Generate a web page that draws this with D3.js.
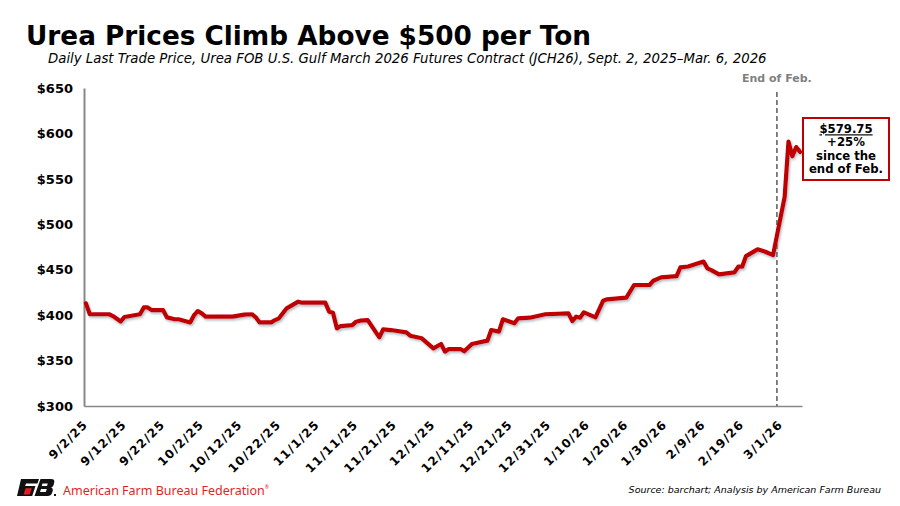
<!DOCTYPE html>
<html>
<head>
<meta charset="utf-8">
<script src="https://cdn.jsdelivr.net/npm/d3@7"></script>
<style>
  html, body { margin: 0; padding: 0; background: #fff; }
  svg { display: block; font-family: "DejaVu Sans", Verdana, sans-serif; }
  .ytick { font-family: "DejaVu Sans", Verdana, sans-serif; font-size: 13px; font-weight: bold; fill: #000; }
  .xtick { font-family: "DejaVu Sans", Verdana, sans-serif; font-size: 12px; font-weight: bold; fill: #000; letter-spacing: 1.2px; }
</style>
</head>
<body>
<svg id="chart" width="900" height="506"></svg>
<script>
const TITLE = 'Urea Prices Climb Above $500 per Ton';
const SUBTITLE = 'Daily Last Trade Price, Urea FOB U.S. Gulf March 2026 Futures Contract (JCH26), Sept. 2, 2025\u2013Mar. 6, 2026';
const SOURCE = 'Source: barchart; Analysis by American Farm Bureau';

// price path (turning points, trading days)
const dates = [
  '2025-09-02', '2025-09-03', '2025-09-08', '2025-09-09', '2025-09-11', '2025-09-12', '2025-09-16', '2025-09-17',
  '2025-09-18', '2025-09-19', '2025-09-22', '2025-09-23', '2025-09-25', '2025-09-26', '2025-09-29', '2025-09-30',
  '2025-10-01', '2025-10-02', '2025-10-03', '2025-10-10', '2025-10-13', '2025-10-15', '2025-10-16', '2025-10-17',
  '2025-10-20', '2025-10-21', '2025-10-22', '2025-10-24', '2025-10-27', '2025-10-28', '2025-11-03', '2025-11-04',
  '2025-11-05', '2025-11-06', '2025-11-07', '2025-11-10', '2025-11-11', '2025-11-12', '2025-11-14', '2025-11-17',
  '2025-11-18', '2025-11-20', '2025-11-24', '2025-11-25', '2025-11-28', '2025-12-01', '2025-12-03', '2025-12-04',
  '2025-12-05', '2025-12-08', '2025-12-09', '2025-12-11', '2025-12-15', '2025-12-16', '2025-12-18', '2025-12-19',
  '2025-12-22', '2025-12-23', '2025-12-26', '2025-12-30', '2026-01-05', '2026-01-06', '2026-01-07', '2026-01-08',
  '2026-01-09', '2026-01-12', '2026-01-14', '2026-01-15', '2026-01-20', '2026-01-22', '2026-01-26', '2026-01-27',
  '2026-01-29', '2026-02-02', '2026-02-03', '2026-02-05', '2026-02-09', '2026-02-10', '2026-02-11', '2026-02-13',
  '2026-02-17', '2026-02-18', '2026-02-19', '2026-02-20', '2026-02-23', '2026-02-25', '2026-02-27', '2026-03-02',
  '2026-03-03', '2026-03-04', '2026-03-05', '2026-03-06'
];
const prices = [
  413, 401, 401, 399, 393, 398, 401, 408.5,
  408.5, 405.5, 405.5, 397.5, 395.5, 395.5, 392, 400,
  404.5, 402, 398.3, 398.3, 400.5, 401, 397.6, 392,
  392, 394.6, 396.5, 407.5, 414.8, 413.7, 413.7, 403.8,
  402.7, 385.5, 388, 389, 392.8, 393.9, 394.6, 375.6,
  384.4, 383.6, 381.1, 377.4, 374.5, 363.5, 368.2, 359.8,
  362.7, 362.7, 360.2, 368.2, 371.9, 383.6, 381.8, 395.4,
  391, 396.5, 397.2, 401, 402, 393.5, 398.3, 397.2,
  403.1, 397.6, 415.9, 417.4, 419.2, 433.2, 433.2, 437.9,
  441.6, 443, 452.6, 453.5, 459, 451.5, 449.6, 444.9,
  447, 453.3, 453.3, 465, 472.4, 469.8, 466, 530,
  591, 575, 585, 579.75
];

const tickDates = [
  '2025-09-02', '2025-09-12', '2025-09-22', '2025-10-02', '2025-10-12', '2025-10-22', '2025-11-01',
  '2025-11-11', '2025-11-21', '2025-12-01', '2025-12-11', '2025-12-21', '2025-12-31', '2026-01-10',
  '2026-01-20', '2026-01-30', '2026-02-09', '2026-02-19', '2026-03-01'
];
const yTicks = [300, 350, 400, 450, 500, 550, 600, 650];

const markerDate = '2026-02-28';
const markerLabel = 'End of Feb.';
const calloutLines = ['$579.75', '+25%', 'since the', 'end of Feb.'];

const parse = d3.utcParse('%Y-%m-%d');
const noon = s => d3.utcHour.offset(parse(s), 12);  // points sit in the middle of their day
const fmtTick = d => (d.getUTCMonth() + 1) + '/' + d.getUTCDate() + '/' + String(d.getUTCFullYear()).slice(2);

const svg = d3.select('#chart');
const RED = '#c00000';

const x = d3.scaleUtc()
  .domain([parse('2025-09-02'), parse('2026-03-07')])
  .range([84, 802]);
const y = d3.scaleLinear()
  .domain([300, 650])
  .range([406, 88]);

// soft shadow under the price line
const defs = svg.append('defs');
const shadow = defs.append('filter').attr('id', 'shadow')
  .attr('x', '-5%').attr('y', '-20%').attr('width', '110%').attr('height', '140%');
shadow.append('feDropShadow')
  .attr('dx', 1.2).attr('dy', 1.8).attr('stdDeviation', 0.9)
  .attr('flood-color', '#5a7080').attr('flood-opacity', 0.45);

// titles
svg.append('text')
  .attr('x', 26).attr('y', 45)
  .style('font-size', '26.3px').style('font-weight', 'bold')
  .text(TITLE);
svg.append('text')
  .attr('x', 48).attr('y', 63)
  .style('font-size', '13.3px').style('font-style', 'italic')
  .text(SUBTITLE);

// y axis
const yAxis = svg.append('g')
  .attr('transform', 'translate(84,0)')
  .call(d3.axisLeft(y).tickValues(yTicks).tickSize(0).tickPadding(11).tickFormat(d => '$' + d));
yAxis.attr('font-family', null).attr('font-size', null);
yAxis.select('.domain').attr('stroke', '#888').attr('stroke-width', 2);
yAxis.selectAll('text').attr('class', 'ytick');

// x axis
const xAxis = svg.append('g')
  .attr('transform', 'translate(0,406)')
  .call(d3.axisBottom(x).tickValues(tickDates.map(parse)).tickSize(0).tickFormat(fmtTick));
xAxis.attr('font-family', null).attr('font-size', null);
xAxis.select('.domain').attr('stroke', '#888').attr('stroke-width', 1.5);
xAxis.selectAll('text')
  .attr('class', 'xtick')
  .attr('text-anchor', 'end')
  .attr('dy', null)
  .attr('transform', 'translate(2,17) rotate(-45)');

// end-of-February marker
const mx = x(noon(markerDate));
svg.append('line')
  .attr('x1', mx).attr('x2', mx)
  .attr('y1', 92).attr('y2', 406)
  .attr('stroke', '#666').attr('stroke-width', 1.6)
  .attr('stroke-dasharray', '5,3');
svg.append('text')
  .attr('x', mx).attr('y', 82)
  .attr('text-anchor', 'middle')
  .style('font-size', '11px').style('font-weight', 'bold').style('fill', '#7f7f7f')
  .text(markerLabel);

// price line
const series = dates.map((d, i) => ({ date: noon(d), price: prices[i] }));
svg.append('path')
  .datum(series)
  .attr('fill', 'none')
  .attr('stroke', RED)
  .attr('stroke-width', 4.2)
  .attr('stroke-linejoin', 'round')
  .attr('stroke-linecap', 'round')
  .attr('filter', 'url(#shadow)')
  .attr('d', d3.line().x(d => x(d.date)).y(d => y(d.price)));

// callout box
const box = svg.append('g').attr('transform', 'translate(803,118)');
box.append('rect')
  .attr('width', 86).attr('height', 62)
  .attr('fill', '#fff')
  .attr('stroke', RED).attr('stroke-width', 2);
box.selectAll('text.callout')
  .data(calloutLines)
  .enter().append('text')
  .attr('class', 'callout')
  .attr('x', 43)
  .attr('y', (d, i) => 15.3 + i * 13.1)
  .attr('text-anchor', 'middle')
  .style('font-size', '11.7px').style('font-weight', 'bold')
  .style('text-decoration', (d, i) => i === 0 ? 'underline' : null)
  .text(d => d);

// footer: logo + organisation name
const logo = svg.append('g').attr('transform', 'translate(17,479)');
logo.append('path')
  .attr('d', 'M4,0 L22,0 L20.5,4.5 L9,4.5 L8.2,7 L18.5,7 L15.2,17 L0,17 Z')
  .attr('fill', '#111');
logo.append('path')
  .attr('d', 'M8.6,9.2 L14.8,9.2 L12.6,15.4 L6.6,15.4 Z')
  .attr('fill', '#e21f26');
logo.append('path')
  .attr('d', 'M23.5,0 L34,0 Q38,0 37.2,3.4 L36.6,6 Q36.2,7.8 34.2,8.4 Q36.4,9.2 35.8,11.4 L35,14 Q34.2,17 30.5,17 L17.5,17 Z M25.5,4.5 L24.7,7 L30,7 L30.8,4.5 Z M24,10 L23,13 L28.8,13 L29.8,10 Z')
  .attr('fill', '#111').attr('fill-rule', 'evenodd');
logo.append('rect')
  .attr('x', 37).attr('y', 15).attr('width', 2).attr('height', 2)
  .attr('fill', '#111');

svg.append('text')
  .attr('x', 63).attr('y', 495)
  .style('font-family', '"Noto Sans", sans-serif')
  .style('font-size', '12.5px').style('fill', '#e21f26')
  .text('American Farm Bureau Federation')
  .append('tspan')
  .attr('dy', -6).style('font-size', '5px')
  .text('\u00ae');

svg.append('text')
  .attr('x', 881).attr('y', 493)
  .attr('text-anchor', 'end')
  .style('font-size', '9.5px').style('font-style', 'italic')
  .text(SOURCE);
</script>
</body>
</html>
